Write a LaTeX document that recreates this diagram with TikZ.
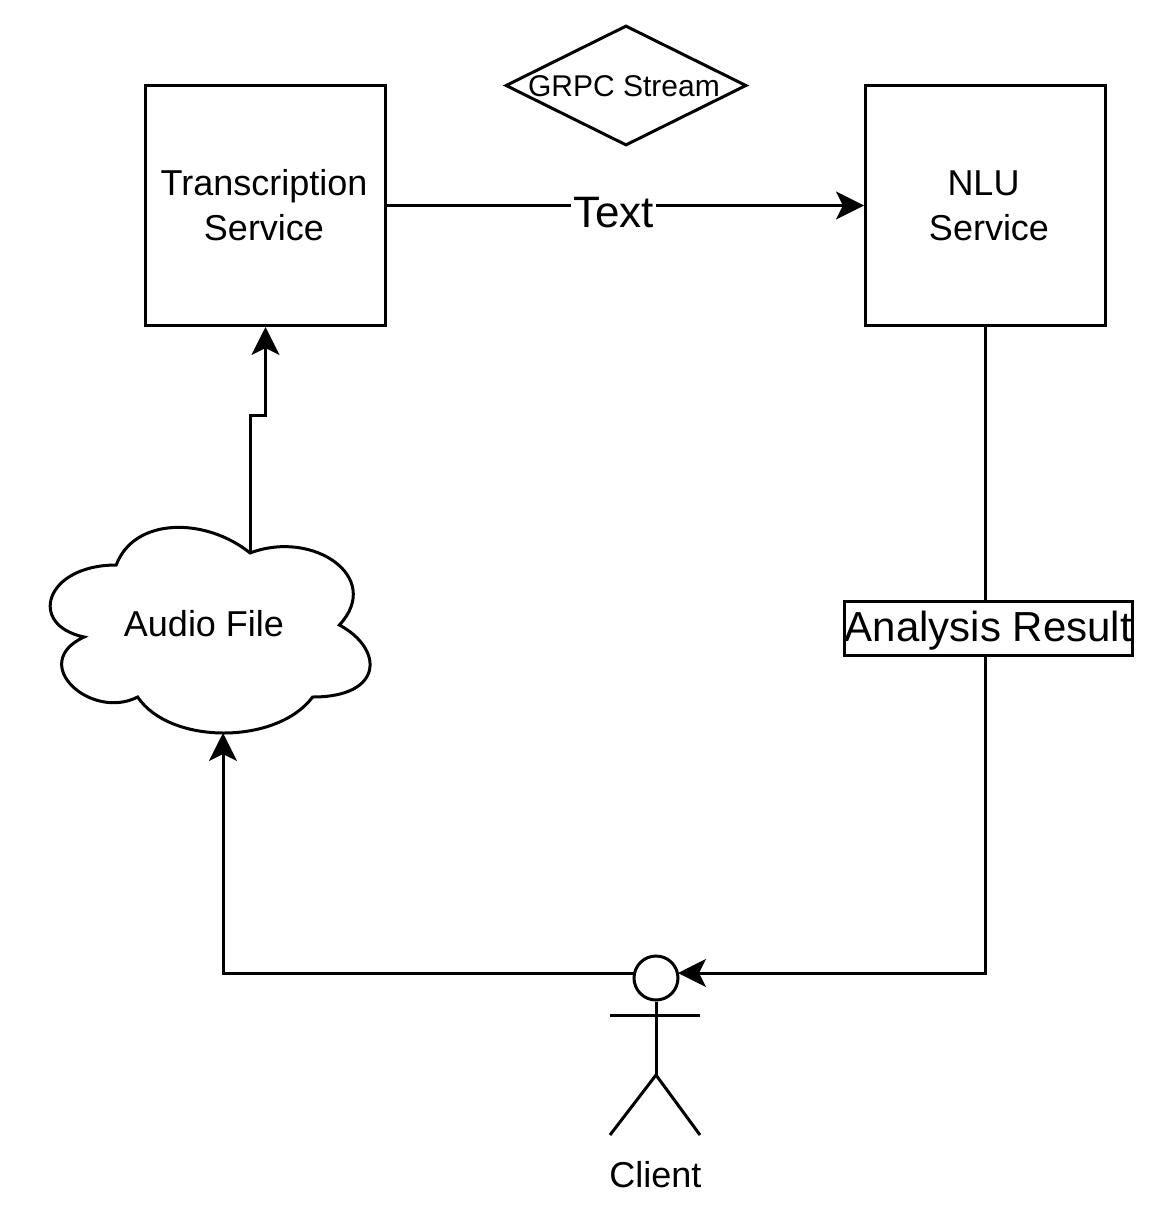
\documentclass[tikz,border=0pt]{standalone}
\usepackage{fontspec}
\setmainfont{Liberation Sans}
\usetikzlibrary{arrows.meta,shapes.geometric}
\tikzset{
  line/.style={line width=3pt,line join=miter},
  boxn/.style={draw,line width=3pt,minimum width=240pt,minimum height=240pt,inner sep=0pt,align=center,font=\fontsize{36}{45}\selectfont,fill=white},
  flow/.style={line width=3pt,-{Stealth[length=28pt,width=28pt,inset=7pt]}},
  lab/.style={inner sep=0pt,font=\fontsize{36}{45}\selectfont},
  biglab/.style={inner sep=0pt,font=\fontsize{42}{50}\selectfont},
}
\begin{document}
\begin{tikzpicture}[x=1pt,y=-1pt]
\useasboundingbox (0,0) rectangle (1158,1224);
% cloud
\draw[line,fill=white] (116.25,565)
 .. controls (44.85,565) and (27,625) .. (84.12,637)
 .. controls (27,663.4) and (91.26,721) .. (137.67,697)
 .. controls (169.8,745) and (276.9,745) .. (312.6,697)
 .. controls (384,697) and (384,649) .. (339.38,625)
 .. controls (384,577) and (312.6,529) .. (250.13,553)
 .. controls (205.5,517) and (134.1,517) .. (116.25,565) -- cycle;
\node[lab] (cloud) at (204,624) {Audio File};
\coordinate (cloudtop) at (250,553);
\coordinate (cloudbot) at (223,733);
% boxes
\node[boxn] (trans) at (265.5,205.5) {};
\node[lab,align=center] (transtxt) at (264,205) {Transcription\\Service};
\node[boxn] (nlu) at (985.5,205.5) {};
\node[lab] (nlutxt1) at (983.5,183) {NLU};
\node[lab] (nlutxt2) at (989,228) {Service};
\node[diamond,draw,line width=3pt,minimum width=241pt,minimum height=120pt,inner sep=0pt,aspect=2] (grpc) at (626,85.5) {};
\node[inner sep=0pt,font=\fontsize{30}{36}\selectfont] (grpctxt) at (624,86.5) {GRPC Stream};
% actor
\node[circle,draw,line width=3pt,minimum size=44pt,inner sep=0pt] (head) at (656,978) {};
\coordinate (neck) at (656,1075);
\coordinate (armL) at (610,1015);
\coordinate (armR) at (700,1015);
\coordinate (legL) at (610,1135);
\coordinate (legR) at (700,1135);
\draw[line] (head.south) -- (neck);
\draw[line] (armL) -- (armR);
\draw[line] (legL) -- (neck) -- (legR);
\node[lab] (client) at (655.5,1175) {Client};
% connectors
\draw[flow] (trans.east |- 0,205.5) -- (nlu.west);
\node[inner sep=0pt,font=\fontsize{44}{50}\selectfont,fill=white,inner xsep=2pt] (textlab) at (613.5,213) {Text};
\draw[flow] (cloudtop) -- (250,415) -- (265.5,415) -- (trans.south);
\coordinate (c1) at (634,973);
\draw[flow] (c1) -- (223,973) -- (cloudbot);
\coordinate (c2) at (678,973);
\draw[flow] (nlu.south) -- (985.5,973) -- (c2);
\node[draw,line width=3pt,fill=white,minimum width=288pt,minimum height=54pt,inner sep=0pt] (res) at (988.5,628.5) {};
\node[biglab] (restxt) at (988.5,631) {Analysis Result};
\end{tikzpicture}
\end{document}
